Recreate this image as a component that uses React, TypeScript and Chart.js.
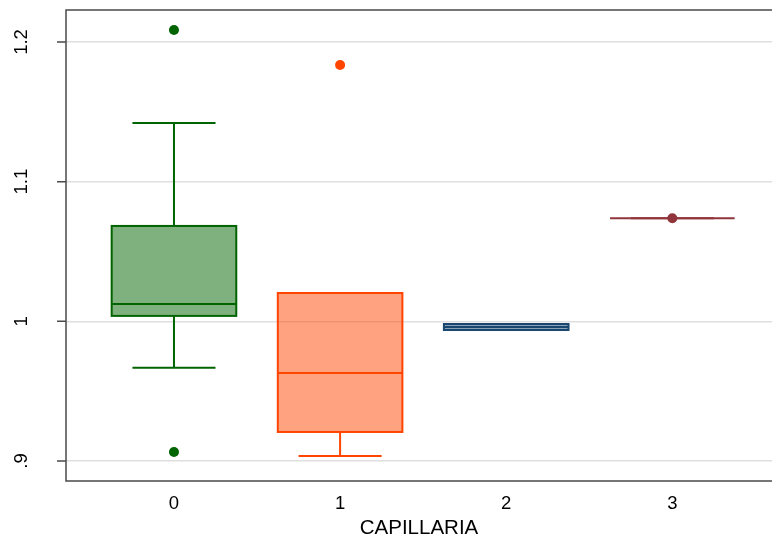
import React, { useEffect, useRef } from "react";
import { Chart, registerables } from "chart.js";

Chart.register(...registerables);

// ---- data ----
const categories = [0, 1, 2, 3];
const lowerWhisker = [0.9667, 0.9036, 0.9938, 1.0738];
const q1 = [1.0039, 0.9208, 0.9938, 1.0738];
const median = [1.0125, 0.9631, 0.996, 1.0738];
const q3 = [1.0683, 1.0203, 0.9981, 1.0738];
const upperWhisker = [1.142, 1.0203, 0.9981, 1.0738];
const outlierGroup = [0, 0, 1, 3];
const outlierValue = [1.2086, 0.9064, 1.1835, 1.0738];
const yTickValues = [0.9, 1, 1.1, 1.2];
const yTickLabels = [".9", "1", "1.1", "1.2"];
const xTitle = "CAPILLARIA";

// ---- style ----
const strokeColors = ["#006400", "#ff4500", "#1a476f", "#90353b"];
const fillColors = [
  "rgba(0,100,0,0.5)",
  "rgba(255,69,0,0.5)",
  "rgba(26,71,111,0.5)",
  "rgba(144,53,59,0.5)",
];
const FONT = "'Liberation Sans', Arial, sans-serif";

const boxPlugin = {
  id: "boxPlugin",
  beforeDatasetsDraw(chart: any) {
    const { ctx, scales } = chart;
    const xs = scales.x;
    const ys = scales.y;
    ctx.save();
    categories.forEach((c, i) => {
      const cx = xs.getPixelForValue(c);
      const hw = xs.getPixelForValue(c + 0.375) - cx;
      const cw = xs.getPixelForValue(c + 0.25) - cx;
      const yQ1 = ys.getPixelForValue(q1[i]);
      const yQ3 = ys.getPixelForValue(q3[i]);
      const yMed = ys.getPixelForValue(median[i]);
      const yLo = ys.getPixelForValue(lowerWhisker[i]);
      const yHi = ys.getPixelForValue(upperWhisker[i]);
      ctx.strokeStyle = strokeColors[i];
      ctx.lineWidth = 2;
      ctx.beginPath();
      if (yHi < yQ3) {
        ctx.moveTo(cx, yQ3);
        ctx.lineTo(cx, yHi);
      }
      if (yLo > yQ1) {
        ctx.moveTo(cx, yQ1);
        ctx.lineTo(cx, yLo);
      }
      ctx.moveTo(cx - cw, yHi);
      ctx.lineTo(cx + cw, yHi);
      ctx.moveTo(cx - cw, yLo);
      ctx.lineTo(cx + cw, yLo);
      ctx.stroke();
      if (Math.abs(yQ1 - yQ3) > 0.5) {
        ctx.fillStyle = fillColors[i];
        ctx.fillRect(cx - hw, yQ3, hw * 2, yQ1 - yQ3);
        ctx.strokeRect(cx - hw, yQ3, hw * 2, yQ1 - yQ3);
      }
      ctx.beginPath();
      ctx.moveTo(cx - hw, yMed);
      ctx.lineTo(cx + hw, yMed);
      ctx.stroke();
    });
    ctx.restore();
  },
  afterDraw(chart: any) {
    const { ctx, chartArea, scales } = chart;
    const ys = scales.y;
    ctx.save();
    ctx.strokeStyle = "#4a4a4a";
    ctx.lineWidth = 1.5;
    ctx.beginPath();
    ctx.moveTo(chartArea.right, chartArea.top);
    ctx.lineTo(chartArea.left, chartArea.top);
    ctx.lineTo(chartArea.left, chartArea.bottom);
    ctx.lineTo(chartArea.right, chartArea.bottom);
    yTickValues.forEach((v) => {
      const y = ys.getPixelForValue(v);
      ctx.moveTo(chartArea.left - 9, y);
      ctx.lineTo(chartArea.left, y);
    });
    ctx.stroke();
    ctx.fillStyle = "#000";
    ctx.font = `18.5px ${FONT}`;
    ctx.textAlign = "center";
    ctx.textBaseline = "alphabetic";
    yTickValues.forEach((v, i) => {
      const y = ys.getPixelForValue(v);
      ctx.save();
      ctx.translate(27, y);
      ctx.rotate(-Math.PI / 2);
      ctx.fillText(yTickLabels[i], 0, 0);
      ctx.restore();
    });
    ctx.restore();
  },
};

export default function App() {
  const ref = useRef<HTMLCanvasElement | null>(null);
  useEffect(() => {
    if (!ref.current) return;
    const chart = new Chart(ref.current, {
      type: "scatter",
      data: {
        datasets: [
          {
            data: outlierGroup.map((g, i) => ({ x: g, y: outlierValue[i] })),
            backgroundColor: outlierGroup.map((g) => strokeColors[g]),
            borderColor: outlierGroup.map((g) => strokeColors[g]),
            pointRadius: 5,
            borderWidth: 0,
          },
        ],
      },
      options: {
        animation: false,
        responsive: false,
        layout: { autoPadding: false, padding: { top: 10, left: 0, right: 0, bottom: 0 } },
        plugins: {
          legend: { display: false },
          tooltip: { enabled: false },
        },
        scales: {
          x: {
            type: "linear",
            min: -0.65,
            max: 3.6,
            afterBuildTicks: (s: any) => {
              s.ticks = categories.map((v) => ({ value: v }));
            },
            afterFit: (s: any) => {
              s.height = 60;
              s.paddingLeft = 0;
              s.paddingRight = 0;
            },
            grid: { display: false, drawTicks: false },
            border: { display: false },
            ticks: {
              color: "#000",
              font: { family: FONT, size: 18.5 },
              padding: 12,
              maxRotation: 0,
              callback: (v: any) => String(v),
            },
            title: {
              display: true,
              text: xTitle,
              color: "#000",
              font: { family: FONT, size: 20.5 },
              padding: { top: 0, bottom: 0 },
            },
          },
          y: {
            type: "linear",
            min: 0.8857,
            max: 1.2229,
            afterBuildTicks: (s: any) => {
              s.ticks = yTickValues.map((v) => ({ value: v }));
            },
            afterFit: (s: any) => {
              s.width = 66;
              s.paddingTop = 0;
              s.paddingBottom = 0;
            },
            grid: { color: "#dfdfdf", lineWidth: 1.5, drawTicks: false },
            border: { display: false },
            ticks: { display: false },
          },
        },
      },
      plugins: [boxPlugin],
    });
    return () => chart.destroy();
  }, []);
  return (
    <div style={{ position: "fixed", left: 0, top: 0, width: 772, height: 541, background: "#fff" }}>
      <canvas ref={ref} width={772} height={541} style={{ display: "block" }} />
    </div>
  );
}
